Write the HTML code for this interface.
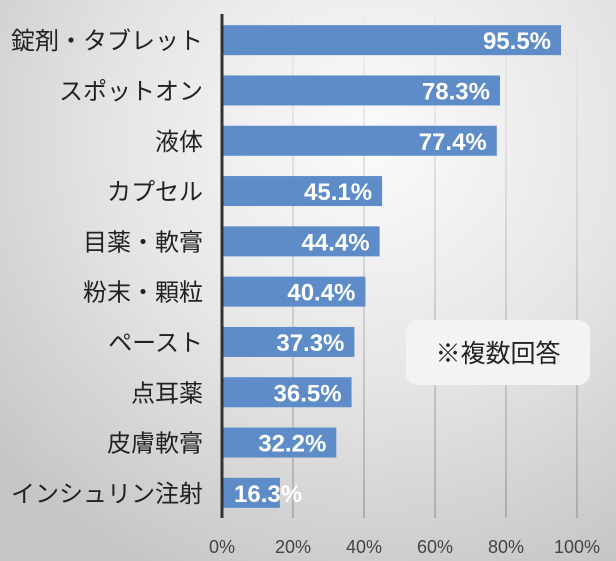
<!DOCTYPE html>
<html><head><meta charset="utf-8"><style>
html,body{margin:0;padding:0}
body{width:616px;height:561px;overflow:hidden;background:radial-gradient(ellipse 80% 85% at 60% 25%,#fbfbfb 0%,#e6e6e6 50%,#c6c6c6 100%);font-family:"Liberation Sans","Noto Sans CJK JP",sans-serif}
</style></head><body>
<svg id="chart" width="616" height="561" xmlns="http://www.w3.org/2000/svg" style="position:absolute;left:0;top:0">
<defs><linearGradient id="gg" x1="0" y1="0" x2="0" y2="1"><stop offset="0" stop-color="#e8e8e8"/><stop offset="1" stop-color="#8a8a8a"/></linearGradient></defs>
<g id="grid"></g><g id="bars"></g><g id="cats"></g><g id="ticks"></g>
<line x1="222" y1="14" x2="222" y2="518" stroke="#333" stroke-width="3"/>
<g>
<rect x="406" y="320" width="184" height="65" rx="12" fill="#f3f3f3"/>
<text x="498" y="362" text-anchor="middle" font-size="25" fill="#222">※複数回答</text>
</g>
</svg>
<script>
const categories=["錠剤・タブレット","スポットオン","液体","カプセル","目薬・軟膏","粉末・顆粒","ペースト","点耳薬","皮膚軟膏","インシュリン注射"];
const values=[95.5,78.3,77.4,45.1,44.4,40.4,37.3,36.5,32.2,16.3];
const tickValues=[0,20,40,60,80,100];
const tickLabels=["0%","20%","40%","60%","80%","100%"];
const NS="http://www.w3.org/2000/svg";
const x0=222,w=355,y0=15,step=50.3,bh=30;
const xs=v=>x0+v/100*w;
const yc=i=>y0+step*i+step/2;
function mk(t,a,p){const e=document.createElementNS(NS,t);for(const k in a)e.setAttribute(k,a[k]);p.appendChild(e);return e;}
const grid=document.getElementById('grid'),bars=document.getElementById('bars'),cats=document.getElementById('cats'),ticks=document.getElementById('ticks');
tickValues.forEach((v,i)=>{
 if(v>0){const g=mk('rect',{x:xs(v)-0.5,y:14,width:1,height:504,fill:'url(#gg)'},grid);
 
 }
 const t=mk('text',{x:xs(v),y:553,'text-anchor':'middle','font-size':18,fill:'#444'},ticks);
 t.textContent=tickLabels[i];
 
 
});
categories.forEach((c,i)=>{
 const r=mk('rect',{x:x0,y:yc(i)-bh/2,width:xs(values[i])-x0,height:bh,fill:'#5d8cc8'},bars);
 
 
 const l=mk('text',{x:xs(values[i])-10,y:yc(i)+9,'text-anchor':'end','font-size':24,'font-weight':'bold',fill:'#fff'},bars);
 l.textContent=values[i].toFixed(1)+'%';
 
 
 const tw=l.getComputedTextLength();
 if(xs(values[i])-10-tw<x0+12){l.setAttribute('text-anchor','start');l.setAttribute('x',x0+12);}
 const t=mk('text',{x:203,y:yc(i)+9,'text-anchor':'end','font-size':24,fill:'#222'},cats);
 t.textContent=c;
 
 
});
</script>
</body></html>
